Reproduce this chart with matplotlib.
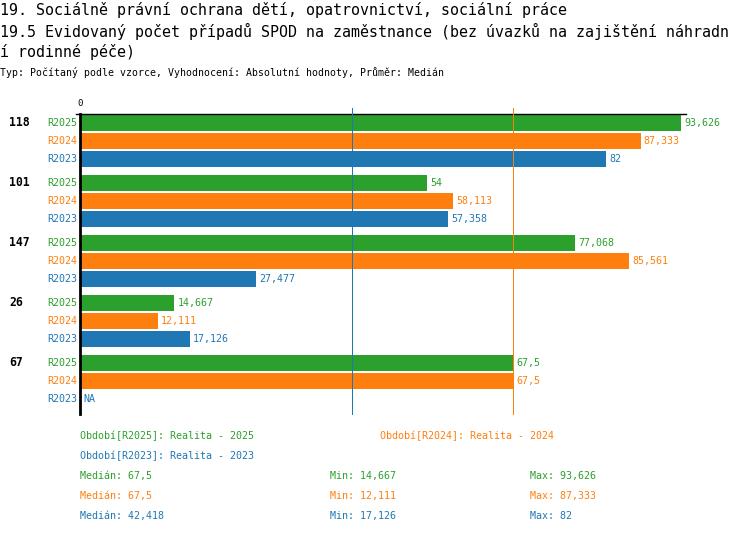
import matplotlib
matplotlib.use('Agg')
import matplotlib.pyplot as plt

# Data
groups = ['118', '101', '147', '26', '67']
series = ['R2025', 'R2024', 'R2023']
r2025 = [93.626, 54, 77.068, 14.667, 67.5]
r2024 = [87.333, 58.113, 85.561, 12.111, 67.5]
r2023 = [82, 57.358, 27.477, 17.126, None]
medians = [67.5, 67.5, 42.418]
mins = ['14,667', '12,111', '17,126']
maxs = ['93,626', '87,333', '82']
legend_names = ['Období[R2025]: Realita - 2025',
                'Období[R2024]: Realita - 2024',
                'Období[R2023]: Realita - 2023']
colors = ['#2ca02c', '#ff7f0e', '#1f77b4']

title1 = '19. Sociálně právní ochrana dětí, opatrovnictví, sociální práce'
title2 = '19.5 Evidovaný počet případů SPOD na zaměstnance (bez úvazků na zajištění náhradn'
title3 = 'í rodinné péče)'
subtitle = 'Typ: Počítaný podle vzorce, Vyhodnocení: Absolutní hodnoty, Průměr: Medián'

W, H = 750, 534
mono = 'DejaVu Sans Mono'


def fmt(v):
    if v is None:
        return 'NA'
    s = ('%.3f' % v).rstrip('0').rstrip('.')
    return s.replace('.', ',')


def ftext(x, y, s, **kw):
    # place text using pixel coordinates from the top-left corner
    fig.text(x / W, 1 - y / H, s, family=mono, va='center', **kw)


fig = plt.figure(figsize=(W / 100, H / 100), dpi=100)
ax = fig.add_axes([80 / W, 1 - 414 / H, 606 / W, 300 / H])

values = [r2025, r2024, r2023]
for gi, g in enumerate(groups):
    base = gi * 60
    ax.text(-71 / 6.42, base + 9, g, ha='left', va='center', family=mono,
            fontsize=8.3, fontweight='bold', color='black')
    for si, name in enumerate(series):
        y = base + 9 + si * 18
        v = values[si][gi]
        ax.text(-0.5, y, name, ha='right', va='center', family=mono,
                fontsize=7.2, color=colors[si])
        if v is not None:
            ax.barh(y, v, height=16, color=colors[si], zorder=2)
        xv = v if v is not None else 0
        ax.text(xv + 0.5, y, fmt(v), ha='left', va='center', family=mono,
                fontsize=7.2, color=colors[si])

# median lines, drawn crisp (1 px) on top of the bars
for si in range(3):
    ax.axvline(medians[si], ymin=0, ymax=1.02, color=colors[si], lw=0.72,
               zorder=3, clip_on=False, antialiased=False)

ax.set_xlim(0, 94.4)
ax.set_ylim(300, 0)
ax.set_xticks([])
ax.set_yticks([])
for side in ['right', 'bottom']:
    ax.spines[side].set_visible(False)
ax.spines['left'].set_linewidth(2)
ax.spines['top'].set_linewidth(1)
ax.plot([-0.006, 0], [1, 1], transform=ax.transAxes, color='black', lw=1,
        clip_on=False)
ax.text(0, 1.02, '0', transform=ax.transAxes, ha='center', va='bottom',
        family=mono, fontsize=6.5)

# titles
ftext(0, 10, title1, fontsize=10.8)
ftext(0, 31, title2, fontsize=10.8)
ftext(0, 52, title3, fontsize=10.8)
ftext(0, 73, subtitle, fontsize=7.1)

# legend and statistics
ftext(80, 436, legend_names[0], fontsize=7.2, color=colors[0])
ftext(380, 436, legend_names[1], fontsize=7.2, color=colors[1])
ftext(80, 456, legend_names[2], fontsize=7.2, color=colors[2])
for si in range(3):
    y = 476 + si * 20
    ftext(80, y, 'Medián: ' + fmt(medians[si]), fontsize=7.2, color=colors[si])
    ftext(330, y, 'Min: ' + mins[si], fontsize=7.2, color=colors[si])
    ftext(530, y, 'Max: ' + maxs[si], fontsize=7.2, color=colors[si])

fig.savefig('out.png', dpi=100)
